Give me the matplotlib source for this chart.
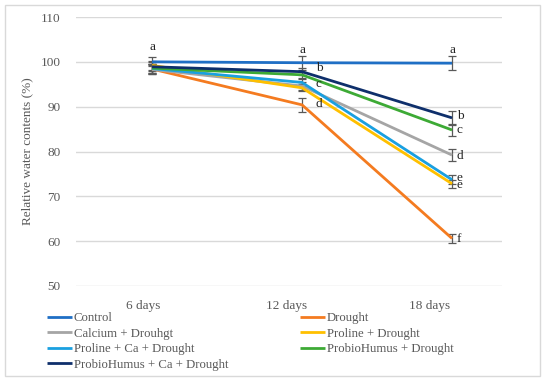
import matplotlib.pyplot as plt
from matplotlib.patches import Rectangle

days = ["6 days", "12 days", "18 days"]
series = ["Control", "Drought", "Calcium + Drouhgt", "Proline + Drought",
          "Proline + Ca + Drought", "ProbioHumus + Drought", "ProbioHumus + Ca + Drought"]
colors = ["#1F6FC5", "#F47B20", "#A5A5A5", "#FFC000", "#1AA0E0", "#3DAA35", "#0E2F6B"]

control = [100.0, 99.8, 99.7]
drought = [98.4, 90.4, 60.6]
calcium = [98.3, 94.6, 79.2]
proline = [99.2, 94.2, 72.8]
proline_ca = [98.5, 95.4, 73.7]
probio = [98.6, 97.1, 84.8]
probio_ca = [98.9, 97.8, 87.5]
values = [control, drought, calcium, proline, proline_ca, probio, probio_ca]

err_control = [1.0, 1.6, 1.6]
err_drought = [1.2, 1.5, 1.0]
err_calcium = [1.0, 0.8, 1.3]
err_proline = [1.0, 0.8, 0.9]
err_proline_ca = [1.0, 0.8, 1.0]
err_probio = [1.0, 0.7, 1.3]
err_probio_ca = [1.0, 0.8, 1.5]
errors = [err_control, err_drought, err_calcium, err_proline,
          err_proline_ca, err_probio, err_probio_ca]

letters_6 = ["a"]
letters_6_y = [103.3]
letters_12 = ["a", "b", "c", "d"]
letters_12_y = [102.7, 98.6, 95.0, 90.6]
letters_18 = ["a", "b", "c", "d", "e", "e", "f"]
letters_18_y = [102.7, 88.0, 84.9, 79.1, 74.2, 72.6, 60.5]

plt.rcParams['font.family'] = ['Liberation Serif', 'DejaVu Serif']

fig = plt.figure(figsize=(5.5, 3.81), dpi=100)
W, H = 550, 381
ax = fig.add_axes([76 / W, 1 - 286 / H, (502 - 76) / W, (286 - 17) / H])

fig.patches.append(Rectangle((5 / W, 1 - 376 / H), (540 - 5) / W, (376 - 5) / H,
                             transform=fig.transFigure, fill=False,
                             edgecolor="#D9D9D9", linewidth=1.0))

x = [0, 1, 2]
handles = []
for name, vals, errs, col in zip(series, values, errors, colors):
    ax.errorbar(x, vals, yerr=errs, fmt="none", ecolor="#595959", elinewidth=0.9,
                capsize=3, capthick=0.9, zorder=2)
    h, = ax.plot(x, vals, color=col, linewidth=2.0, label=name, zorder=3,
                 solid_capstyle="butt")
    handles.append(h)

txt_kw = dict(fontsize=9.5, color="#222222", zorder=5)
for l, y in zip(letters_6, letters_6_y):
    ax.text(0, y, l, ha="center", va="center", **txt_kw)
for i, (l, y) in enumerate(zip(letters_12, letters_12_y)):
    ax.text(1 if i == 0 else 1.09, y, l,
            ha="center" if i == 0 else "left", va="center", **txt_kw)
for i, (l, y) in enumerate(zip(letters_18, letters_18_y)):
    ax.text(2 if i == 0 else 2.03, y, l,
            ha="center" if i == 0 else "left", va="center", **txt_kw)

ax.set_xlim(-0.507, 2.333)
ax.set_ylim(50, 110)
ax.set_yticks([50, 60, 70, 80, 90, 100, 110])
ax.set_xticks([-0.06, 0.9, 1.853])
ax.set_xticklabels(days)
ax.yaxis.grid(True, color="#D9D9D9", linewidth=1.0)
ax.set_axisbelow(True)
for s in ax.spines.values():
    s.set_visible(False)
ax.tick_params(axis="both", length=0, labelsize=9.5, labelcolor="#595959")
ax.tick_params(axis="x", pad=10)
ax.tick_params(axis="y", pad=11)
ax.set_ylabel("Relative water contents (%)", fontsize=9.5, color="#595959", labelpad=5)

order = [0, 2, 4, 6, 1, 3, 5]
fig.legend(handles=[handles[i] for i in order], labels=[series[i] for i in order],
           ncol=2, loc="upper left",
           bbox_to_anchor=(47 / W, 1 - 312 / H), frameon=False,
           fontsize=9.2, labelcolor="#595959", handlelength=1.95, handletextpad=0.15,
           columnspacing=5.6, labelspacing=0.28, borderaxespad=0, borderpad=0)

fig.savefig("out.png", dpi=100)
